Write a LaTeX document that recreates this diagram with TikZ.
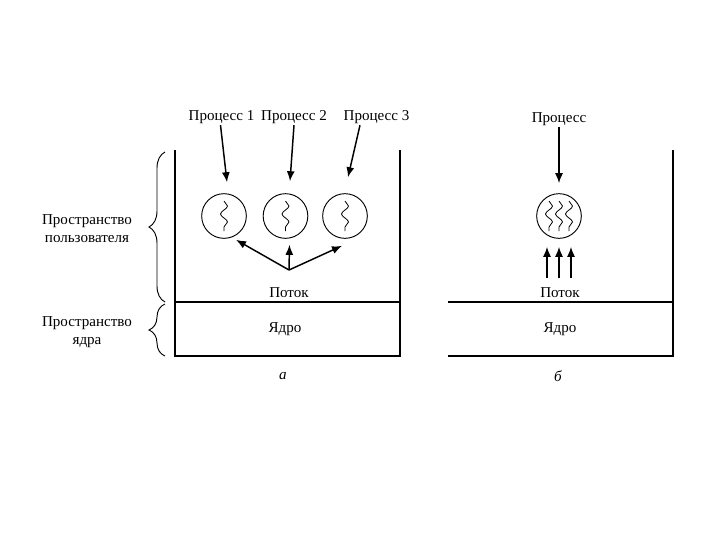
\documentclass[tikz,border=0pt]{standalone}
\usepackage{fontspec}
\setmainfont{Liberation Serif}
\usetikzlibrary{calc,arrows.meta,decorations.pathreplacing,decorations.pathmorphing}

\tikzset{
  lbl/.style={inner sep=1pt, font=\fontsize{11.3}{13.5}\selectfont},
  box/.style={line width=1.1pt},
  thr/.style={draw, circle, inner sep=0pt, minimum size=33.5pt, line width=0.7pt},
  wave/.style={line width=0.6pt, decorate, decoration={snake, segment length=12pt, amplitude=2.6pt}},
  arr/.style={line width=1.1pt, -{Latex[length=7.5pt,width=6pt]}},
  brc/.style={line width=0.7pt, decorate, decoration={brace, amplitude=12pt}}
}

\begin{document}
\begin{tikzpicture}[x=0.75pt,y=-0.75pt]
\useasboundingbox (0,0) rectangle (720,540);

% Скобки и подписи слева
\draw[brc] (165,302) -- (165,152);
\draw[brc] (165,356) -- (165,304);
\node[lbl, align=center] (usr) at (87,229) {Пространство\\пользователя};
\node[lbl, align=center] (krn) at (87,332) {Пространство\\ядра};

% Схема а
\draw[box] (175,150) -- (175,356) -- (400,356) -- (400,150);
\draw[box] (175,302) -- (400,302);

\node[lbl] (p1) at (221.5,117) {Процесс 1};
\node[lbl] (p2) at (294,117) {Процесс 2};
\node[lbl] (p3) at (376.5,117) {Процесс 3};

\node[thr] (c1) at (224,216) {};
\node[thr] (c2) at (285.5,216) {};
\node[thr] (c3) at (345,216) {};
\foreach \c in {c1,c2,c3}
  \draw[wave] ($(\c.center)+(0,-15)$) -- ($(\c.center)+(0,15)$);

\draw[arr] ($(p1.south)+(-1,0)$) -- ($(c1.north)+(3,-11)$);
\draw[arr] (p2.south) -- ($(c2.north)+(4.5,-12)$);
\draw[arr] ($(p3.south)+(-16.5,0)$) -- ($(c3.north)+(3,-16)$);

\coordinate (fork) at (289,270);
\draw[arr] (fork) -- ($(c1.south)+(12,1)$);
\draw[arr] (fork) -- ($(c2.south)+(4,6)$);
\draw[arr] (fork) -- ($(c3.south)+(-3,7)$);

\node[lbl] (flw1) at (289,293) {Поток};
\node[lbl] (ker1) at (285,329) {Ядро};
\node[lbl, font=\fontsize{11.3}{13.5}\selectfont\itshape] (capa) at (283,376) {а};

% Схема б
\draw[box] (448,356) -- (673,356) -- (673,150);
\draw[box] (448,302) -- (673,302);

\node[lbl] (p) at (559,119) {Процесс};
\node[thr] (c) at (559,216) {};
\foreach \dx in {-10,0,10}
  \draw[wave] ($(c.center)+(\dx,-15)$) -- ($(c.center)+(\dx,15)$);

\draw[arr] (p.south) -- ($(c.north)+(0,-10)$);
\foreach \dx in {-12,0,12}
  \draw[arr] ($(c.south)+(\dx,39)$) -- ($(c.south)+(\dx,8)$);

\node[lbl] (flw2) at (560,293) {Поток};
\node[lbl] (ker2) at (560,329) {Ядро};
\node[lbl, font=\fontsize{11.3}{13.5}\selectfont\itshape] (capb) at (558,376) {б};
\end{tikzpicture}
\end{document}
